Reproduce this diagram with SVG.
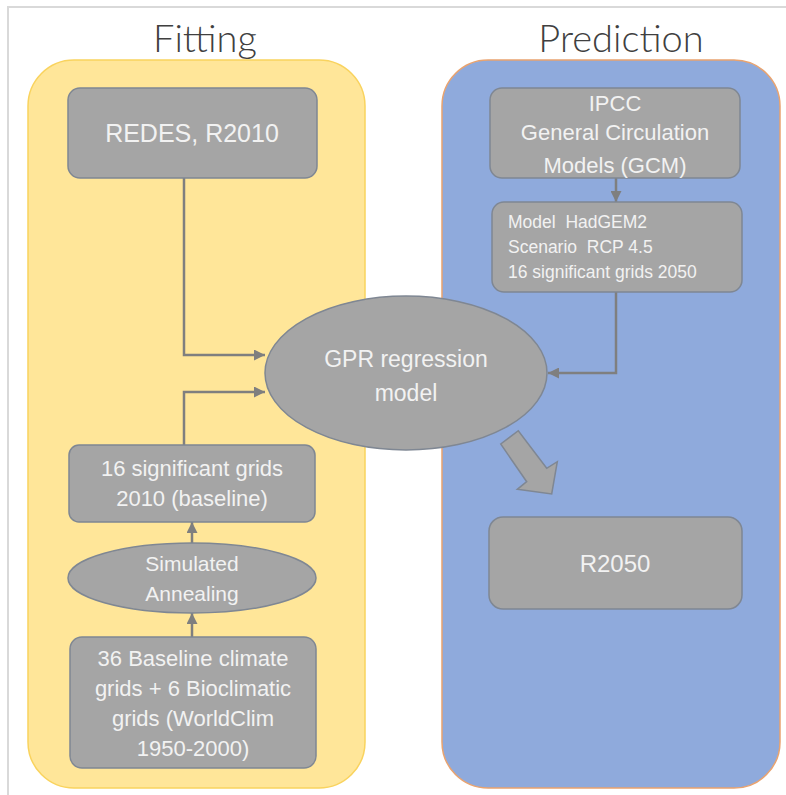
<svg xmlns="http://www.w3.org/2000/svg" width="786" height="795" viewBox="0 0 786 795">
<defs>
<style>
.frame{fill:none;stroke:#D9D9D9;stroke-width:2}
.title{font-family:Lato,"Liberation Sans",sans-serif;font-weight:300;font-size:38px;fill:#404040;text-anchor:middle}
.box{fill:#A5A5A5;stroke:#7F8793;stroke-width:1.5}
.t{font-family:"Liberation Sans",Arial,sans-serif;fill:#F2F2F2;text-anchor:middle}
.tl{font-family:"Liberation Sans",Arial,sans-serif;fill:#F2F2F2;font-size:17.5px;white-space:pre}
.conn{fill:none;stroke:#7F7F7F;stroke-width:2.5}
</style>
<marker id="ah" viewBox="0 0 10 10" refX="10" refY="5" markerWidth="4.4" markerHeight="4.4" orient="auto" markerUnits="strokeWidth">
<path d="M0,0 L10,5 L0,10 Z" fill="#7F7F7F"/>
</marker>
</defs>
<rect width="786" height="795" fill="#FFFFFF"/>
<path class="frame" d="M8,795 V7 H786"/>

<g id="panel-fitting">
<rect x="28" y="60" width="337" height="728" rx="46" fill="#FFE699" stroke="#F9D35E" stroke-width="1.5"/>
<text class="title" x="205" y="52">Fitting</text>
</g>
<g id="panel-prediction">
<rect x="442" y="60" width="338" height="728" rx="46" fill="#8FAADC" stroke="#E9A36F" stroke-width="1.5"/>
<text class="title" x="621" y="52">Prediction</text>
</g>

<g id="connectors">
<path class="conn" d="M184,178 V355 H265" marker-end="url(#ah)"/>
<path class="conn" d="M184,445 V392 H265" marker-end="url(#ah)"/>
<path class="conn" d="M616,178 V202" marker-end="url(#ah)"/>
<path class="conn" d="M616,292 V373 H548" marker-end="url(#ah)"/>
<path class="conn" d="M192,543 V522" marker-end="url(#ah)"/>
<path class="conn" d="M192,637 V613" marker-end="url(#ah)"/>
<path d="M500.7,444 L518.3,430.7 L546.7,468.3 L557.3,461.7 L551.7,494 L517.3,489.3 L526.7,481.7 Z" fill="#A5A5A5" stroke="#7F8793" stroke-width="1.5"/>
</g>

<g id="redes">
<rect class="box" x="68" y="88" width="249" height="90" rx="12"/>
<text class="t" x="192" y="142" font-size="25">REDES, R2010</text>
</g>

<g id="gpr">
<ellipse class="box" cx="406" cy="373" rx="141" ry="77"/>
<text class="t" x="406" y="367" font-size="23">GPR regression</text>
<text class="t" x="406" y="401" font-size="23">model</text>
</g>

<g id="ipcc">
<rect class="box" x="490" y="88" width="250" height="90" rx="12"/>
<text class="t" x="615" y="111" font-size="22">IPCC</text>
<text class="t" x="615" y="140" font-size="22">General Circulation</text>
<text class="t" x="615" y="173" font-size="22">Models (GCM)</text>
</g>

<g id="hadgem">
<rect class="box" x="492" y="202" width="250" height="90" rx="12"/>
<text class="tl" x="508" y="228" xml:space="preserve">Model  HadGEM2</text>
<text class="tl" x="508" y="253" xml:space="preserve">Scenario  RCP 4.5</text>
<text class="tl" x="508" y="278">16 significant grids 2050</text>
</g>

<g id="grids2010">
<rect class="box" x="69" y="445" width="246" height="77" rx="10"/>
<text class="t" x="192" y="476" font-size="22">16 significant grids</text>
<text class="t" x="192" y="506" font-size="22">2010 (baseline)</text>
</g>

<g id="annealing">
<ellipse class="box" cx="192" cy="578" rx="124" ry="35"/>
<text class="t" x="192" y="571" font-size="21">Simulated</text>
<text class="t" x="192" y="601" font-size="21">Annealing</text>
</g>

<g id="baseline">
<rect class="box" x="70" y="637" width="246" height="131" rx="12"/>
<text class="t" x="193" y="666" font-size="22">36 Baseline climate</text>
<text class="t" x="193" y="696" font-size="22">grids + 6 Bioclimatic</text>
<text class="t" x="193" y="726" font-size="22">grids (WorldClim</text>
<text class="t" x="193" y="756" font-size="22">1950-2000)</text>
</g>

<g id="r2050">
<rect class="box" x="489" y="517" width="253" height="92" rx="14"/>
<text class="t" x="615" y="572" font-size="24">R2050</text>
</g>
</svg>
